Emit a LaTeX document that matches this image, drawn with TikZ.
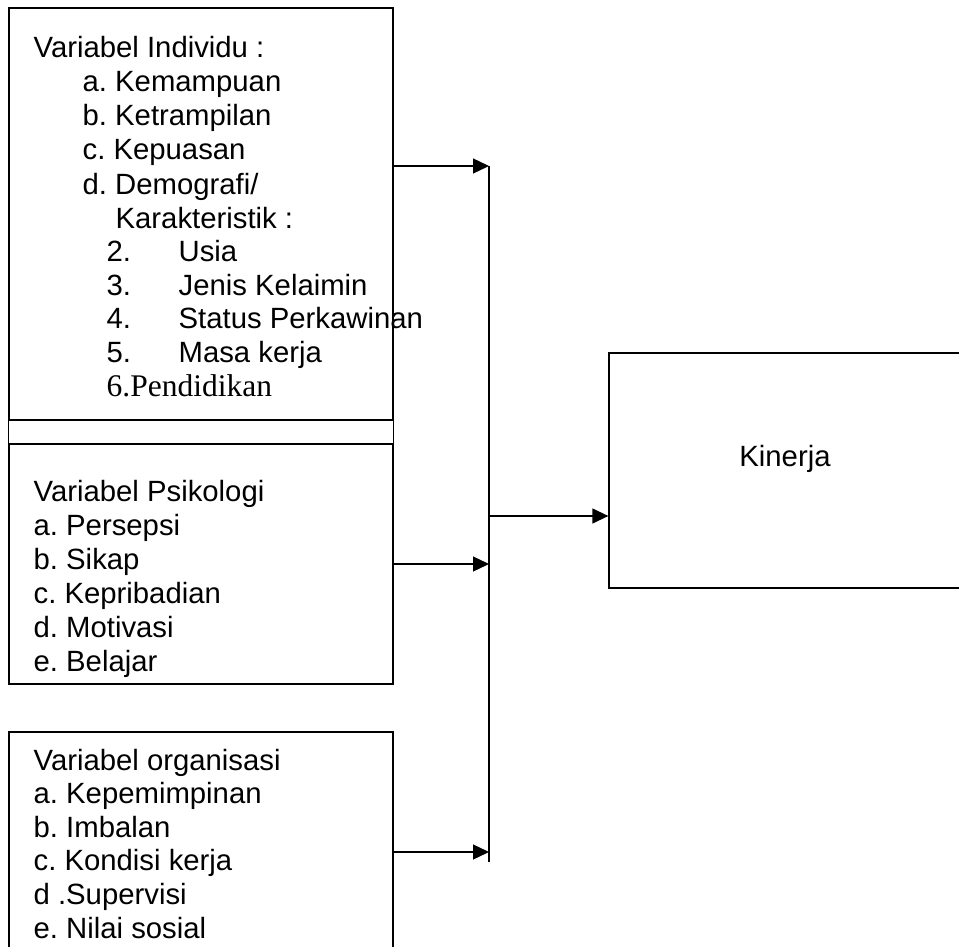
\documentclass[tikz,border=0pt]{standalone}
\usepackage{fontspec}
\setmainfont{Liberation Sans}
\newfontfamily\timesfont{Liberation Serif}
\usetikzlibrary{arrows.meta}
\frenchspacing
\begin{document}
\begin{tikzpicture}[x=1pt,y=-1pt,line width=1.3pt,
  box/.style={draw,rectangle,inner sep=0pt},
  txt/.style={anchor=base west,inner sep=0pt,font=\fontsize{29.3}{34}\selectfont},
  arr/.style={-{Triangle[length=16pt,width=15pt]}}]
\useasboundingbox (0,0) rectangle (959,947);
\clip (0,0) rectangle (959,947);
% boxes
\node[box,minimum width=384pt,minimum height=412pt] (ind) at (201,214) {};
\node[box,minimum width=384pt,minimum height=240pt] (psi) at (201,564) {};
\node[box,minimum width=384pt,minimum height=228pt] (org) at (201,846) {};
\node[box,minimum width=401pt,minimum height=235pt] (kin) at (809.5,470.5) {};
\draw (ind.south west) -- (psi.north west);
\draw (ind.south east) -- (psi.north east);
\coordinate (kx) at ([yshift=4pt]kin.south west);
\draw (kin.south west) -- (kx);
% texts box 1
\node[txt] (i1) at (33,58) {Variabel Individu :};
\node[txt] (i2) at (82,92) {a. Kemampuan};
\node[txt] (i3) at (82,126) {b. Ketrampilan};
\node[txt] (i4) at (82,160) {c. Kepuasan};
\node[txt] (i5) at (82,194) {d. Demografi/};
\node[txt] (i6) at (115,228) {Karakteristik :};
\node[txt] (i7) at (106,261) {\makebox[72pt][l]{2.}Usia};
\node[txt] (i8) at (106,295) {\makebox[72pt][l]{3.}Jenis Kelaimin};
\node[txt] (i9) at (106,328) {\makebox[72pt][l]{4.}Status Perkawinan};
\node[txt] (i10) at (106,362) {\makebox[72pt][l]{5.}Masa kerja};
\node[txt,font=\timesfont\fontsize{31.5}{34}\selectfont] (i11) at (106,396) {6.Pendidikan};
% texts box 2
\node[txt] (p1) at (33,501) {Variabel Psikologi};
\node[txt] (p2) at (33,535) {a. Persepsi};
\node[txt] (p3) at (33,569) {b. Sikap};
\node[txt] (p4) at (33,603) {c. Kepribadian};
\node[txt] (p5) at (33,637) {d. Motivasi};
\node[txt] (p6) at (33,671) {e. Belajar};
% texts box 3
\node[txt] (o1) at (33,770) {Variabel organisasi};
\node[txt] (o2) at (33,803) {a. Kepemimpinan};
\node[txt] (o3) at (33,837) {b. Imbalan};
\node[txt] (o4) at (33,870) {c. Kondisi kerja};
\node[txt] (o5) at (33,904) {d .Supervisi};
\node[txt] (o6) at (33,938) {e. Nilai sosial};
% Kinerja
\node[txt,anchor=base] (kl) at (785,466) {Kinerja};
% connectors
\coordinate (bt) at (489,166);
\coordinate (bb) at (489,862);
\coordinate (b2) at (489,564);
\coordinate (b3) at (489,852);
\coordinate (b4) at (489,516);
\draw (bt) -- (bb);
\draw[arr] (ind.east |- bt) -- (bt);
\draw[arr] (psi.east) -- (b2);
\draw[arr] (org.east |- b3) -- (b3);
\draw[arr] (b4) -- (b4 -| kin.west);
\end{tikzpicture}
\end{document}
